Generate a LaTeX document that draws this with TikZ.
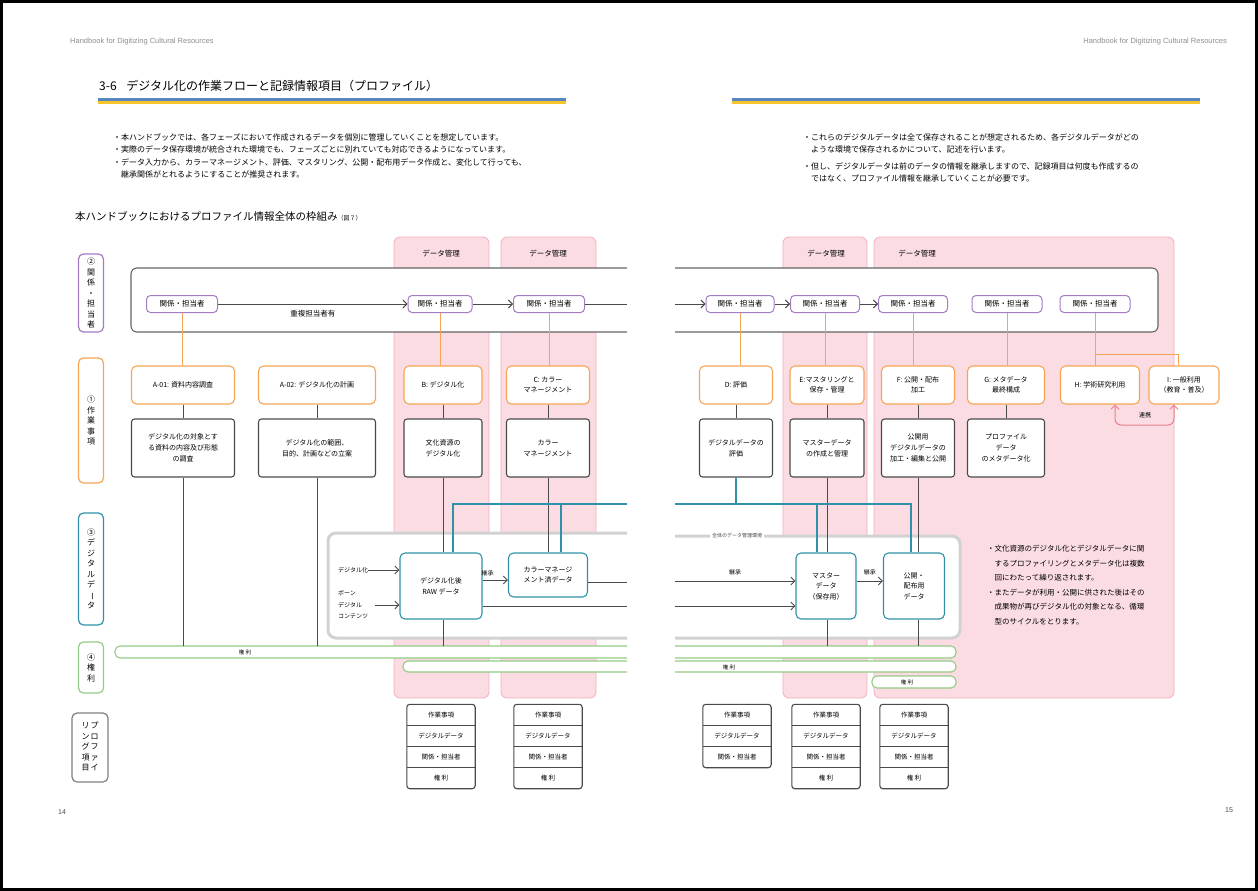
\documentclass[tikz,border=0pt]{standalone}
\usepackage{fontspec}
\usepackage{graphicx}
\setmainfont{Noto Sans CJK JP}
\newfontfamily\hdfont{Liberation Sans}
\usetikzlibrary{arrows.meta}
\definecolor{pinkbg}{HTML}{FADCE2}
\definecolor{pinkln}{HTML}{F3AFBC}
\definecolor{relc}{HTML}{A47BC5}
\definecolor{taskc}{HTML}{F5A553}
\definecolor{datac}{HTML}{2F92AA}
\definecolor{rightc}{HTML}{95CB85}
\definecolor{envc}{HTML}{D2D2D2}
\definecolor{linkc}{HTML}{EC7F8A}
\definecolor{bandblue}{HTML}{5A86BE}
\definecolor{bandyel}{HTML}{F6C52E}
\definecolor{hdgray}{HTML}{8E8E8E}
\definecolor{boxgray}{HTML}{4A4A4A}
\tikzset{
    rel/.style={draw=relc,line width=1,rounded corners=4,fill=white,
        minimum height=17,inner sep=0,font=\fontsize{7.5}{8}\selectfont},
    task/.style={draw=taskc,line width=1.1,rounded corners=5,fill=white,
        minimum height=38,inner sep=1,align=center,font=\fontsize{7}{10}\selectfont},
    desc/.style={draw=boxgray,line width=1.1,rounded corners=3,fill=white,
        minimum height=58,inner sep=1,align=center,font=\fontsize{7}{11}\selectfont},
    dnode/.style={draw=datac,line width=1.1,rounded corners=5,fill=white,
        inner sep=1,align=center,font=\fontsize{7}{10.5}\selectfont},
    sidebox/.style={rounded corners=5,line width=1.2,fill=white,minimum width=25,
        inner sep=0,align=center,font=\fontsize{8}{10.5}\selectfont},
    pinkcol/.style={draw=pinkln,fill=pinkbg,line width=0.8,rounded corners=6},
    grpbox/.style={draw=boxgray!85,line width=1.1,fill=white,rounded corners=6},
    envbox/.style={draw=envc,line width=3,fill=white,rounded corners=8},
    bar/.style={draw=rightc,line width=1.1,fill=white,rounded corners=5},
    conn/.style={draw=boxgray,line width=0.9},
    arr/.style={conn,-{Straight Barb[length=4pt,width=8pt]}},
    oline/.style={draw=taskc,line width=1},
    tline/.style={draw=datac,line width=1.1},
    link/.style={draw=linkc,line width=1,rounded corners=6,
        {Straight Barb[length=4pt,width=8pt]}-{Straight Barb[length=4pt,width=8pt]}},
    lbl/.style={inner sep=0,font=\fontsize{6}{7}\selectfont},
    hdtext/.style={inner sep=0,text=hdgray,font=\hdfont\fontsize{7.5}{9}\selectfont},
    bullet/.style={inner sep=0,align=left,font=\fontsize{8}{12.5}\selectfont},
    note/.style={inner sep=0,align=left,font=\fontsize{7.5}{14.5}\selectfont},
    tabrow/.style={minimum width=68,minimum height=21,inner sep=0,
        font=\fontsize{6.5}{7}\selectfont},
    tabframe/.style={draw=boxgray,line width=1.1,rounded corners=3},
    envlab/.style={fill=white,inner sep=2,text=boxgray,font=\fontsize{5}{6}\selectfont}
}
\newcommand{\tatebo}{\rotatebox[origin=c]{-90}{ー}}
\newcommand{\sidelabel}[5]{
    \node[sidebox,draw=#4,minimum height={#3-#2}] (#1) at (91,{(#2+#3)/2}) {#5};
}
\newcommand{\taskcol}[5]{
    \node[task,minimum width=#3] (#1-t) at (#2,385) {#4};
    \node[desc,minimum width=#3] (#1-d) at (#2,448) {#5};
}
\newcommand{\proftab}[3]{
    \foreach \i/\rowtxt in {1/作業事項,2/デジタルデータ,3/関係・担当者,4/権 利}{
        \ifnum\i>#3\else
            \node[tabrow] (#1-\i) at (#2,{694+21*\i}) {\rowtxt};
        \fi
    }
    \draw[tabframe] (#1-1.north west) rectangle (#1-#3.south east);
    \foreach \i in {2,...,#3}
        \draw[conn,line width=0.8] (#1-\i.north west) -- (#1-\i.north east);
}
\begin{document}
\begin{tikzpicture}[x=1pt,y=-1pt]
    \useasboundingbox (0,0) rectangle (1258,891);
    \fill[white] (0,0) rectangle (1258,891);
    \draw[line width=3] (1.5,1.5) rectangle (1256.5,889.5);

    \node[hdtext,anchor=west] (hdl) at (70,42) {Handbook for Digitizing Cultural Resources};
    \node[hdtext,anchor=east] (hdr) at (1227,42) {Handbook for Digitizing Cultural Resources};
    \node[anchor=west,inner sep=0,font=\fontsize{12}{14}\selectfont] (ttl) at (99,86)
        {3-6\hspace{0.8em}デジタル化の作業フローと記録情報項目（プロファイル）};
    \foreach \a/\b in {98/566,732/1200}{
        \fill[bandblue] (\a,98) rectangle (\b,100.5);
        \fill[bandyel] (\a,100.5) rectangle (\b,103.5);
    }
    \node[bullet,anchor=north west] (introl) at (113,133)
        {・本ハンドブックでは、各フェーズにおいて作成されるデータを個別に管理していくことを想定しています。\\
         ・実際のデータ保存環境が統合された環境でも、フェーズごとに別れていても対応できるようになっています。\\
         ・データ入力から、カラーマネージメント、評価、マスタリング、公開・配布用データ作成と、変化して行っても、\\
         \hspace*{1em}継承関係がとれるようにすることが推奨されます。};
    \node[bullet,anchor=north west] (intror) at (803,133)
        {・これらのデジタルデータは全て保存されることが想定されるため、各デジタルデータがどの\\
         \hspace*{1em}ような環境で保存されるかについて、記述を行います。\\[4pt]
         ・但し、デジタルデータは前のデータの情報を継承しますので、記録項目は何度も作成するの\\
         \hspace*{1em}ではなく、プロファイル情報を継承していくことが必要です。};
    \node[anchor=west,inner sep=0,font=\fontsize{10.5}{12}\selectfont] (sub) at (75,216)
        {本ハンドブックにおけるプロファイル情報全体の枠組み{\fontsize{6}{7}\selectfont （図７）}};

    \sidelabel{lrel}{254}{332}{relc}{②\\関\\係\\・\\担\\当\\者}
    \sidelabel{ltask}{358}{483}{taskc}{①\\作\\業\\事\\項}
    \sidelabel{ldata}{513}{625}{datac}{③\\デ\\ジ\\タ\\ル\\デ\\\tatebo\\タ}
    \sidelabel{lright}{642}{693}{rightc}{④\\権\\利}
    \node[sidebox,draw=gray,minimum width=36,minimum height=69] (lprof) at (90,747.5)
        {\begin{tabular}{@{}c@{\hspace{1pt}}c@{}}リ&プ\\ン&ロ\\グ&フ\\項&ァ\\目&イ\end{tabular}};

    \foreach \a/\b in {394/489,501/596,783/867,874/1174}
        \draw[pinkcol] (\a,237) rectangle (\b,698);
    \foreach \n/\x in {hd1/441,hd2/548,hd3/826,hd4/917}
        \node[inner sep=0,font=\fontsize{7.5}{8}\selectfont] (\n) at (\x,254) {データ管理};

    \path[grpbox] (627,268) -- (131,268) -- (131,332) -- (627,332);
    \path[grpbox] (675,268) -- (1158,268) -- (1158,332) -- (675,332);
    \path[envbox] (627,533) -- (328,533) -- (328,638) -- (627,638);
    \path[envbox] (675,536) -- (960,536) -- (960,638) -- (675,638);
    \node[envlab] (envl) at (737,536) {全体のデータ管理環境};

    \path[bar] (627,646) -- (115,646) -- (115,658) -- (627,658);
    \path[bar] (675,646) -- (956,646) -- (956,658) -- (675,658);
    \path[bar] (627,661) -- (403,661) -- (403,672) -- (627,672);
    \path[bar] (675,661) -- (956,661) -- (956,672) -- (675,672);
    \path[bar] (872,676) rectangle (956,688);
    \foreach \n/\x/\y in {rt1/245/652,rt2/729/667,rt3/907/682}
        \node[lbl,font=\fontsize{5.5}{6}\selectfont] (\n) at (\x,\y) {権 利};

    \foreach \n/\x/\w in {r1/182/71,r2/440/64,r3/549/71,r4/740/68,r5/825/69,r6/913/69,r7/1007/70,r8/1095/70}
        \node[rel,minimum width=\w] (\n) at (\x,304) {関係・担当者};

    \taskcol{a1}{183}{103}{A-01: 資料内容調査}{デジタル化の対象とす\\る資料の内容及び形態\\の調査}
    \taskcol{a2}{317}{117}{A-02: デジタル化の計画}{デジタル化の範囲、\\目的、計画などの立案}
    \taskcol{b}{443}{78}{B: デジタル化}{文化資源の\\デジタル化}
    \taskcol{c}{548}{83}{C: カラー\\マネージメント}{カラー\\マネージメント}
    \taskcol{d}{736}{73}{D: 評価}{デジタルデータの\\評価}
    \taskcol{e}{827}{74}{E:マスタリングと\\保存・管理}{マスターデータ\\の作成と管理}
    \taskcol{f}{918}{73}{F: 公開・配布\\加工}{公開用\\デジタルデータの\\加工・編集と公開}
    \taskcol{g}{1006}{77}{G: メタデータ\\最終構成}{プロファイル\\データ\\のメタデータ化}
    \node[task,minimum width=79] (h-t) at (1100,385) {H: 学術研究利用};
    \node[task,minimum width=70] (i-t) at (1184,385) {I: 一般利用\\（教育・普及）};

    \node[dnode,minimum width=82,minimum height=66] (raw) at (441,586) {デジタル化後\\RAW データ};
    \node[dnode,minimum width=79,minimum height=44] (cm) at (548,575) {カラーマネージ\\メント済データ};
    \node[dnode,minimum width=60,minimum height=66] (mst) at (826,586) {マスター\\データ\\（保存用）};
    \node[dnode,minimum width=61,minimum height=66] (pub) at (914,586) {公開・\\配布用\\データ};
    \node[lbl,anchor=west] (dgin) at (338,570) {デジタル化};
    \node[lbl,anchor=west,align=left,font=\fontsize{6}{11.5}\selectfont] (bdin) at (338,605)
        {ボーン\\デジタル\\コンテンツ};

    \node[note,anchor=north west] (nt) at (987,545)
        {・文化資源のデジタル化とデジタルデータに関\\
         \hspace*{1em}するプロファイリングとメタデータ化は複数\\
         \hspace*{1em}回にわたって繰り返されます。\\
         ・またデータが利用・公開に供された後はその\\
         \hspace*{1em}成果物が再びデジタル化の対象となる、循環\\
         \hspace*{1em}型のサイクルをとります。};

    \coordinate (gl) at (627,304);
    \coordinate (gr) at (675,304);
    \draw[arr] (r1) -- (r2) node[midway,below=6pt,lbl,font=\fontsize{7.5}{8}\selectfont] (dup) {重複担当者有};
    \draw[arr] (r2) -- (r3);
    \draw[conn] (r3) -- (gl);
    \draw[arr] (gr) -- (r4);
    \draw[arr] (r4) -- (r5);
    \draw[arr] (r5) -- (r6);

    \foreach \a/\b in {r1/a1-t,r2/b-t,r3/c-t,r4/d-t,r5/e-t,r6/f-t,r7/g-t,r8/h-t}
        \draw[oline] (\a.south) -- (\a.south |- \b.north);
    \coordinate (ibend) at (1178,354);
    \draw[oline] (r8.south |- ibend) -- (ibend) -- (ibend |- i-t.north);

    \foreach \n in {a1,a2,b,c,d,e,f,g}
        \draw[conn] (\n-t.south) -- (\n-t.south |- \n-d.north);
    \coordinate (bartop) at (0,646);
    \draw[conn] (a1-d.south) -- (a1-d.south |- bartop);
    \draw[conn] (a2-d.south) -- (a2-d.south |- bartop);
    \draw[conn] (b-d.south) -- (b-d.south |- raw.north);
    \draw[conn] (b-d.south |- raw.south) -- (b-d.south |- bartop);
    \draw[conn] (c-d.south) -- (c-d.south |- cm.north);
    \draw[conn] (e-d.south) -- (e-d.south |- mst.north);
    \draw[conn] (e-d.south |- mst.south) -- (e-d.south |- bartop);
    \draw[conn] (f-d.south) -- (f-d.south |- pub.north);
    \draw[conn] (f-d.south |- pub.south) -- (f-d.south |- bartop);

    \coordinate (tl) at (627,504);
    \coordinate (tr) at (675,504);
    \draw[tline] (tl) -| ([xshift=12pt]raw.north);
    \draw[tline] ([xshift=13pt]cm.north) -- ([xshift=13pt]cm.north |- tl);
    \draw[tline] (tr) -| ([xshift=-3pt]pub.north);
    \draw[tline] (d-d.south) -- (d-d.south |- tr);
    \draw[tline] ([xshift=-9pt]mst.north) -- ([xshift=-9pt]mst.north |- tr);

    \draw[arr] (dgin.east) -- (dgin.east -| raw.west);
    \draw[arr] ([xshift=7pt]bdin.east) -- (bdin.east -| raw.west);
    \draw[arr] ([yshift=6pt]raw.east) -- ([yshift=6pt]raw.east -| cm.west)
        node[pos=0.2,above=4pt,lbl] (inh1) {継承};
    \coordinate (cl) at (627,582);
    \coordinate (rl) at (627,606);
    \coordinate (cr) at (675,581);
    \coordinate (rr) at (675,606);
    \draw[conn] (cm.east |- cl) -- (cl);
    \draw[conn] (raw.east |- rl) -- (rl);
    \draw[arr] (cr) -- (cr -| mst.west) node[midway,above=6pt,lbl] (inh2) {継承};
    \draw[arr] (rr) -- (rr -| mst.west);
    \draw[arr] (mst.east |- cr) -- (cr -| pub.west) node[midway,above=6pt,lbl] (inh3) {継承};

    \coordinate (lk) at (1145,425);
    \draw[link] ([xshift=15pt]h-t.south) |- (lk) -| ([xshift=-10pt]i-t.south);
    \node[lbl] (lkl) at (1145,415) {連携};

    \proftab{t1}{441}{4}
    \proftab{t2}{548}{4}
    \proftab{t3}{737}{3}
    \proftab{t4}{826}{4}
    \proftab{t5}{914}{4}

    \node[inner sep=0,text=boxgray,font=\hdfont\fontsize{7}{8}\selectfont] (p14) at (62,812) {14};
    \node[inner sep=0,text=boxgray,font=\hdfont\fontsize{7}{8}\selectfont] (p15) at (1229,810) {15};
\end{tikzpicture}
\end{document}
